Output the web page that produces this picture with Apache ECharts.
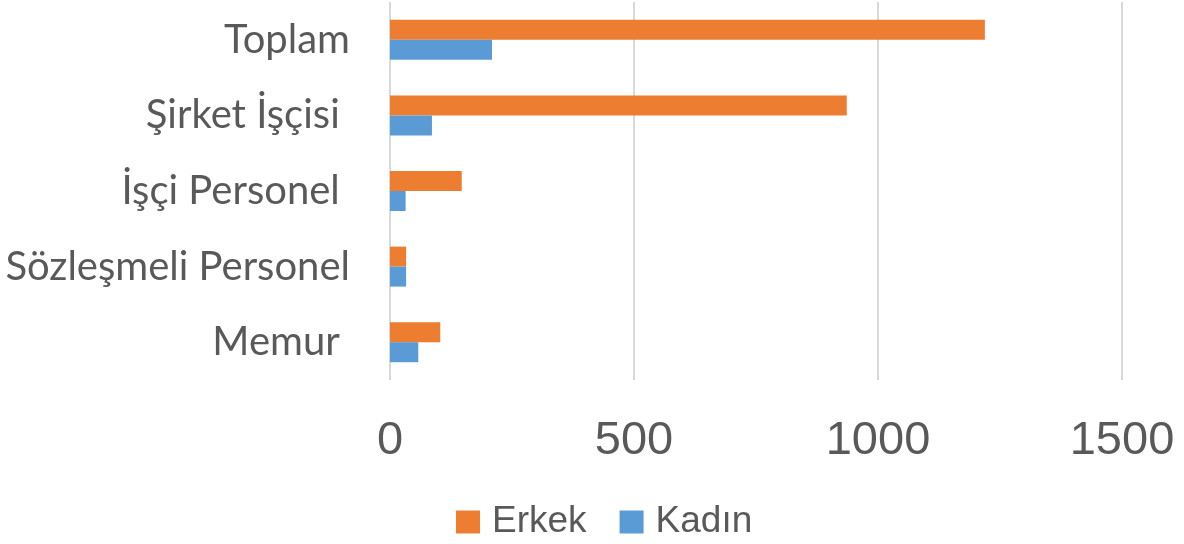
<!DOCTYPE html>
<html>
<head>
<meta charset="utf-8">
<script src="https://cdn.jsdelivr.net/npm/echarts@6/dist/echarts.min.js"></script>
<style>
html,body{margin:0;padding:0;background:#fff;}
#main{width:1184px;height:544px;}
</style>
</head>
<body>
<div id="main"></div>
<script>
var categories = ['Memur ', 'Sözleşmeli Personel', 'İşçi Personel ', 'Şirket İşçisi ', 'Toplam'];
var erkek = [103, 33, 147, 936, 1219];
var kadin = [58, 33, 32, 86, 209];
var xTicks = [0, 500, 1000, 1500];

var chart = echarts.init(document.getElementById('main'));
var textColor = '#595959';
var option = {
    animation: false,
    backgroundColor: '#fff',
    grid: {
        left: 390,
        right: 62,
        top: 2,
        bottom: 164,
        outerBoundsMode: 'none'
    },
    legend: {
        data: ['Erkek', 'Kadın'],
        left: 456,
        top: 500,
        padding: 0,
        itemWidth: 24,
        itemHeight: 23,
        itemGap: 33,
        icon: 'rect',
        textStyle: {
            color: textColor,
            fontSize: 37,
            lineHeight: 44,
            padding: [0, 0, 0, 7],
            fontFamily: 'Liberation Sans, sans-serif'
        }
    },
    xAxis: {
        type: 'value',
        min: xTicks[0],
        max: xTicks[xTicks.length - 1],
        interval: 500,
        axisLine: { show: false },
        axisTick: { show: false },
        splitLine: { lineStyle: { color: '#D9D9D9', width: 2 } },
        axisLabel: {
            color: textColor,
            fontSize: 47,
            margin: 38,
            fontFamily: 'Liberation Sans, sans-serif',
            formatter: function (v) { return String(v); }
        }
    },
    yAxis: {
        type: 'category',
        data: categories,
        axisLine: { show: false },
        axisTick: { show: false },
        axisLabel: {
            color: textColor,
            fontSize: 40,
            margin: 40,
            fontFamily: 'Lato, sans-serif'
        }
    },
    series: [
        {
            name: 'Erkek',
            type: 'bar',
            data: erkek,
            barWidth: 20,
            barGap: '0%',
            itemStyle: { color: '#ED7D31' }
        },
        {
            name: 'Kadın',
            type: 'bar',
            data: kadin,
            barWidth: 20,
            barGap: '0%',
            itemStyle: { color: '#5B9BD5' }
        }
    ]
};
chart.setOption(option);
</script>
</body>
</html>
